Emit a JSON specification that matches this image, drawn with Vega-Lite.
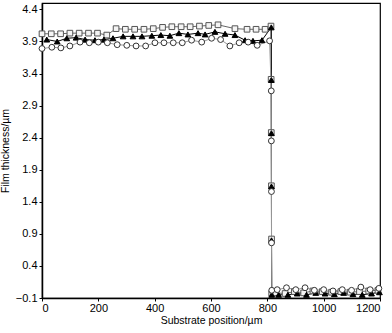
{
  "$schema": "https://vega.github.io/schema/vega-lite/v6.json",
  "width": 338,
  "height": 295,
  "autosize": {"type": "none"},
  "padding": {"left": 42, "top": 3, "right": 12, "bottom": 35},
  "background": "white",
  "config": {
    "view": {"stroke": "black", "strokeWidth": 1.2},
    "font": "Liberation Sans",
    "axis": {
      "domainColor": "black", "domainWidth": 1.5, "tickColor": "black", "tickSize": 3,
      "labelColor": "black", "titleColor": "black", "labelFontSize": 11, "titleFontSize": 10.5,
      "titleFontWeight": "normal", "grid": false, "labelFont": "Liberation Sans", "titleFont": "Liberation Sans"
    }
  },
  "data": {"values": [
    {"s":"A","x":0,"y":4.02},{"s":"A","x":33,"y":4.02},{"s":"A","x":66,"y":4.02},{"s":"A","x":99,"y":4.03},{"s":"A","x":132,"y":4.03},{"s":"A","x":165,"y":4.03},{"s":"A","x":197,"y":4.03},{"s":"A","x":230,"y":4.0},{"s":"A","x":263,"y":4.1},{"s":"A","x":296,"y":4.09},{"s":"A","x":329,"y":4.09},{"s":"A","x":362,"y":4.09},{"s":"A","x":395,"y":4.1},{"s":"A","x":428,"y":4.12},{"s":"A","x":461,"y":4.13},{"s":"A","x":494,"y":4.13},{"s":"A","x":526,"y":4.13},{"s":"A","x":559,"y":4.14},{"s":"A","x":592,"y":4.15},{"s":"A","x":625,"y":4.16},{"s":"A","x":685,"y":4.1},{"s":"A","x":728,"y":4.09},{"s":"A","x":760,"y":4.09},{"s":"A","x":792,"y":4.09},{"s":"A","x":813,"y":4.14},
    {"s":"A","x":813.5,"y":3.31},{"s":"A","x":814,"y":2.48},{"s":"A","x":814.5,"y":1.65},{"s":"A","x":815,"y":0.82},{"s":"A","x":815.5,"y":-0.03},
    {"s":"A","x":830,"y":-0.02},{"s":"A","x":863,"y":-0.03},{"s":"A","x":896,"y":0.0},{"s":"A","x":929,"y":-0.02},{"s":"A","x":962,"y":0.01},{"s":"A","x":995,"y":0.0},{"s":"A","x":1028,"y":-0.01},{"s":"A","x":1061,"y":0.0},{"s":"A","x":1094,"y":-0.01},{"s":"A","x":1127,"y":0.0},{"s":"A","x":1160,"y":0.01},{"s":"A","x":1193,"y":0.02},
    {"s":"B","x":17,"y":3.93},{"s":"B","x":54,"y":3.9},{"s":"B","x":88,"y":3.95},{"s":"B","x":121,"y":3.96},{"s":"B","x":153,"y":3.93},{"s":"B","x":188,"y":3.92},{"s":"B","x":220,"y":3.93},{"s":"B","x":252,"y":3.95},{"s":"B","x":288,"y":3.98},{"s":"B","x":323,"y":3.98},{"s":"B","x":355,"y":3.98},{"s":"B","x":390,"y":3.99},{"s":"B","x":422,"y":4.0},{"s":"B","x":454,"y":3.99},{"s":"B","x":486,"y":4.03},{"s":"B","x":518,"y":4.01},{"s":"B","x":554,"y":4.03},{"s":"B","x":579,"y":4.01},{"s":"B","x":614,"y":4.05},{"s":"B","x":650,"y":4.02},{"s":"B","x":685,"y":4.0},{"s":"B","x":721,"y":3.92},{"s":"B","x":749,"y":3.91},{"s":"B","x":781,"y":3.92},{"s":"B","x":814,"y":4.12},
    {"s":"B","x":814.2,"y":3.3},{"s":"B","x":814.4,"y":2.47},{"s":"B","x":814.6,"y":1.64},{"s":"B","x":814.8,"y":0.8},{"s":"B","x":815.6,"y":-0.05},
    {"s":"B","x":840,"y":-0.05},{"s":"B","x":873,"y":-0.05},{"s":"B","x":906,"y":-0.03},{"s":"B","x":939,"y":-0.05},{"s":"B","x":972,"y":-0.02},{"s":"B","x":1005,"y":-0.03},{"s":"B","x":1038,"y":-0.04},{"s":"B","x":1071,"y":-0.02},{"s":"B","x":1104,"y":-0.04},{"s":"B","x":1137,"y":-0.05},{"s":"B","x":1170,"y":-0.03},{"s":"B","x":1198,"y":-0.01},
    {"s":"C","x":0,"y":3.79},{"s":"C","x":35,"y":3.81},{"s":"C","x":67,"y":3.8},{"s":"C","x":99,"y":3.83},{"s":"C","x":135,"y":3.89},{"s":"C","x":168,"y":3.88},{"s":"C","x":200,"y":3.89},{"s":"C","x":232,"y":3.88},{"s":"C","x":267,"y":3.85},{"s":"C","x":301,"y":3.84},{"s":"C","x":334,"y":3.83},{"s":"C","x":368,"y":3.83},{"s":"C","x":401,"y":3.88},{"s":"C","x":433,"y":3.88},{"s":"C","x":466,"y":3.88},{"s":"C","x":498,"y":3.88},{"s":"C","x":531,"y":3.92},{"s":"C","x":567,"y":3.89},{"s":"C","x":602,"y":3.95},{"s":"C","x":634,"y":3.93},{"s":"C","x":667,"y":3.83},{"s":"C","x":700,"y":3.88},{"s":"C","x":732,"y":3.89},{"s":"C","x":764,"y":3.84},{"s":"C","x":808,"y":3.91},
    {"s":"C","x":814,"y":3.13},{"s":"C","x":814.3,"y":2.35},{"s":"C","x":814.6,"y":1.56},{"s":"C","x":814.9,"y":0.76},{"s":"C","x":815.7,"y":0.02},
    {"s":"C","x":835,"y":0.03},{"s":"C","x":868,"y":0.06},{"s":"C","x":901,"y":0.03},{"s":"C","x":934,"y":0.06},{"s":"C","x":967,"y":0.02},{"s":"C","x":1000,"y":0.03},{"s":"C","x":1033,"y":0.01},{"s":"C","x":1066,"y":0.03},{"s":"C","x":1099,"y":0.02},{"s":"C","x":1132,"y":0.07},{"s":"C","x":1165,"y":0.03},{"s":"C","x":1196,"y":0.05}
  ]},
  "encoding": {
    "x": {"field": "x", "type": "quantitative", "scale": {"domain": [0, 1200], "nice": false},
      "axis": {"values": [0, 200, 400, 600, 800, 1000, 1200], "format": "d", "title": "Substrate position/µm", "labelPadding": 1, "titlePadding": 2}},
    "y": {"field": "y", "type": "quantitative", "scale": {"domain": [-0.1, 4.5], "nice": false, "zero": false},
      "axis": {"values": [-0.1, 0.4, 0.9, 1.4, 1.9, 2.4, 2.9, 3.4, 3.9, 4.4], "format": ".1f", "title": "Film thickness/µm", "labelPadding": 2, "titlePadding": 5}}
  },
  "layer": [
    {"mark": {"type": "line", "strokeWidth": 1},
     "encoding": {"color": {"field": "s", "type": "nominal", "scale": {"domain": ["A","B","C"], "range": ["#666666", "#000000", "#999999"]}, "legend": null}}},
    {"mark": {"type": "point", "strokeWidth": 1, "opacity": 1},
     "encoding": {
       "shape": {"field": "s", "type": "nominal", "scale": {"domain": ["A","B","C"], "range": ["square", "triangle-up", "circle"]}, "legend": null},
       "size": {"field": "s", "type": "nominal", "scale": {"domain": ["A","B","C"], "range": [32, 34, 28]}, "legend": null},
       "fill": {"field": "s", "type": "nominal", "scale": {"domain": ["A","B","C"], "range": ["#f4f4f4", "#000000", "#ffffff"]}, "legend": null},
       "stroke": {"field": "s", "type": "nominal", "scale": {"domain": ["A","B","C"], "range": ["#555555", "#000000", "#333333"]}, "legend": null}
     }}
  ]
}
